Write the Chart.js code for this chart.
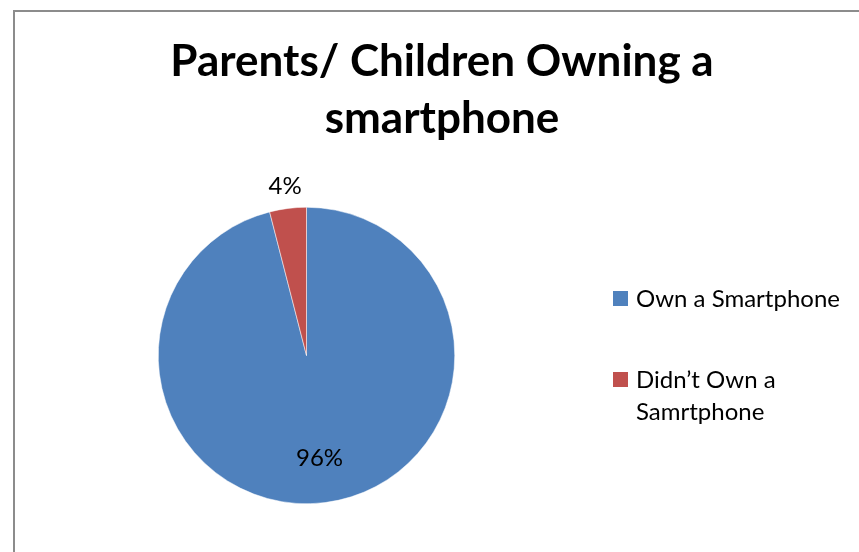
<!DOCTYPE html>
<html>
<head>
<meta charset="utf-8">
<script src="https://cdn.jsdelivr.net/npm/chart.js@4"></script>
<style>
  html, body { margin: 0; padding: 0; background: #fff; overflow: hidden; }
  #wrap { position: relative; width: 859px; height: 552px; }
  #frame { position: absolute; left: 13px; top: 10px; width: 900px; height: 600px;
           border-top: 2px solid #8c8c8c; border-left: 2px solid #8c8c8c; box-sizing: border-box; }
  #title { position: absolute; left: 0; top: 31px; width: 884px; text-align: center;
           font-family: Lato, "Open Sans", sans-serif; font-weight: bold; font-size: 44px;
           line-height: 57px; color: #000; }
  .leg { position: absolute; left: 613px; font-family: Lato, "Open Sans", sans-serif;
         font-size: 24px; line-height: 32px; color: #000; }
  .leg i { position: absolute; left: 0; top: 9px; width: 15px; height: 15px; }
  .leg span { display: block; margin-left: 23px; }
  canvas { position: absolute; left: 0; top: 0; }
</style>
</head>
<body>
<div id="wrap">
  <div id="frame"></div>
  <canvas id="pie" width="859" height="552"></canvas>
  <div id="title">Parents/ Children Owning a<br>smartphone</div>
  <div id="legend"></div>
</div>
<script>
const categories = ['Own a Smartphone', 'Didn\u2019t Own a Samrtphone'];
const legendLines = [['Own a Smartphone'], ['Didn\u2019t Own a', 'Samrtphone']];
const percentages = [96, 4];
const colors = ['#4F81BD', '#C0504D'];

// legend in HTML, placed to the right of the pie
const legendTops = [282, 363];
const legendDiv = document.getElementById('legend');
legendLines.forEach((lines, i) => {
    const el = document.createElement('div');
    el.className = 'leg';
    el.style.top = legendTops[i] + 'px';
    el.innerHTML = `<i style="background:${colors[i]}"></i><span>${lines.join('<br>')}</span>`;
    legendDiv.appendChild(el);
});

// percentage labels: inside for big slices, outside for small ones
const pctLabels = {
    id: 'pctLabels',
    afterDatasetsDraw(chart) {
        const ctx = chart.ctx;
        const meta = chart.getDatasetMeta(0);
        ctx.save();
        ctx.font = '24px Lato, "Open Sans", sans-serif';
        ctx.fillStyle = '#000';
        ctx.textAlign = 'center';
        ctx.textBaseline = 'middle';
        meta.data.forEach((arc, i) => {
            const mid = (arc.startAngle + arc.endAngle) / 2;
            const dist = percentages[i] < 10 ? arc.outerRadius + 22 : arc.outerRadius * 0.7;
            const x = arc.x + Math.cos(mid) * dist;
            const y = arc.y + Math.sin(mid) * dist;
            ctx.fillText(percentages[i] + '%', x, y);
        });
        ctx.restore();
    }
};

new Chart(document.getElementById('pie'), {
    type: 'pie',
    data: {
        labels: categories,
        datasets: [{
            data: percentages,
            backgroundColor: colors,
            borderColor: '#ffffff',
            borderWidth: 0.5
        }]
    },
    options: {
        responsive: false,
        animation: false,
        layout: { padding: { left: 158, top: 207, right: 404, bottom: 48 } },
        plugins: {
            legend: { display: false },
            title: { display: false },
            tooltip: { enabled: false }
        }
    },
    plugins: [pctLabels]
});
</script>
</body>
</html>
